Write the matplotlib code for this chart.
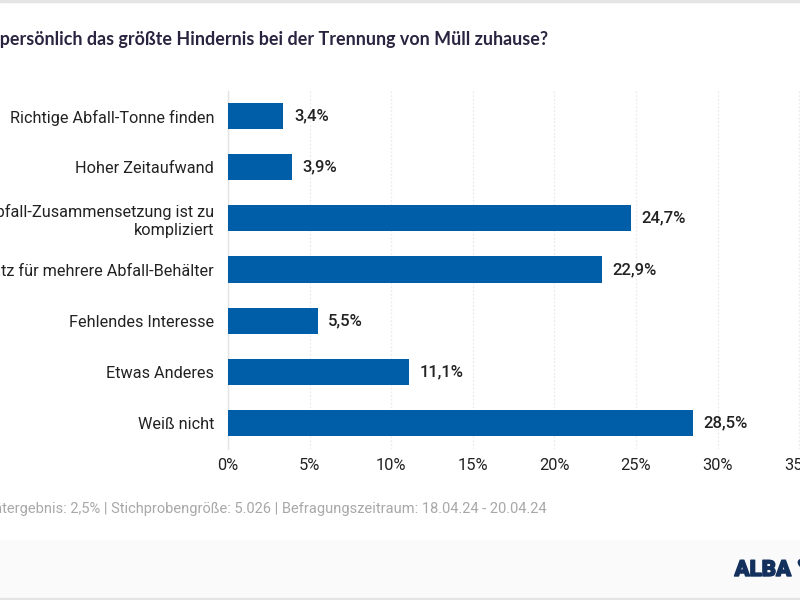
import matplotlib
matplotlib.use('Agg')
import matplotlib.pyplot as plt
import matplotlib.patheffects as pe
from matplotlib.patches import Rectangle

categories = ['Richtige Abfall-Tonne finden', 'Hoher Zeitaufwand',
              'Abfall-Zusammensetzung ist zu\nkompliziert',
              'Platz für mehrere Abfall-Behälter', 'Fehlendes Interesse',
              'Etwas Anderes', 'Weiß nicht']
values = [3.4, 3.9, 24.7, 22.9, 5.5, 11.1, 28.5]
value_labels = ['3,4%', '3,9%', '24,7%', '22,9%', '5,5%', '11,1%', '28,5%']
ticks = [0, 5, 10, 15, 20, 25, 30, 35]
tick_labels = ['0%', '5%', '10%', '15%', '20%', '25%', '30%', '35%']

title = 'Was ist für Sie persönlich das größte Hindernis bei der Trennung von Müll zuhause?'
footer = 'Gesamtergebnis: 2,5% | Stichprobengröße: 5.026 | Befragungszeitraum: 18.04.24 - 20.04.24'

plt.rcParams['font.family'] = 'Roboto'
W, H = 800, 600
fig = plt.figure(figsize=(8, 6), dpi=100, facecolor='white')

# axes in pixels: x=0 at 228, 16.32 px per percent, runs off the right edge
ax = fig.add_axes([228 / W, (H - 448.5) / H, (W - 228) / W, 358 / H])
y = list(range(len(values)))
ax.barh(y, values, height=0.51, color='#005ea8', zorder=3)
ax.set_xlim(0, (W - 228) / 16.32)
ax.set_ylim(len(values) - 0.5, -0.5)

ax.set_xticks(ticks, tick_labels, fontsize=11.8, color='#222222')
ax.set_yticks(y, categories, fontsize=11.7, color='#222222', linespacing=1.25)
ax.tick_params(axis='both', length=0)
ax.tick_params(axis='x', pad=7)
ax.tick_params(axis='y', pad=10)
ax.grid(axis='x', color='#ebebeb', linewidth=0.9, linestyle=(0, (1.5, 1.5)), zorder=0)
for s in ['top', 'right', 'bottom']:
    ax.spines[s].set_visible(False)
ax.spines['left'].set_color('#e4e4e4')
ax.spines['left'].set_linewidth(1)

for yy, v, lab in zip(y, values, value_labels):
    ax.annotate(lab, (v, yy), xytext=(7.5, 0), textcoords='offset points', va='center',
                ha='left', fontsize=12, fontweight='medium', color='#222222', zorder=4)

# title and footer run off the left edge, so anchor them on the right
fig.text(548 / W, 1 - 39 / H, title, ha='right', va='center', fontsize=12.9,
         fontweight='bold', family='Lato', color='#2b2440')
fig.text(547 / W, 1 - 509 / H, footer, ha='right', va='center', fontsize=10.5,
         color='#a8a8a8')

# page furniture
fig.add_artist(Rectangle((0, 0), 1, 60 / H, transform=fig.transFigure, color='#fafafa', zorder=-1))
fig.add_artist(Rectangle((0, 0), 1, 2 / H, transform=fig.transFigure, color='#e4e4e4', zorder=-1))
fig.add_artist(Rectangle((0, 1 - 2 / H), 1, 2 / H, transform=fig.transFigure, color='#e4e4e4', zorder=-1))

logo = fig.text(734.5 / W, 1 - 570 / H, 'ALBA', ha='left', va='center', fontsize=16,
                fontweight='black', family='Roboto', color='#14305c')
logo.set_path_effects([pe.withStroke(linewidth=1, foreground='#14305c')])
fig.text(795 / W, 1 - 567 / H, '♥', ha='left', va='center', fontsize=13,
         family='DejaVu Sans', color='#14305c')

fig.savefig('out.png', dpi=100)
